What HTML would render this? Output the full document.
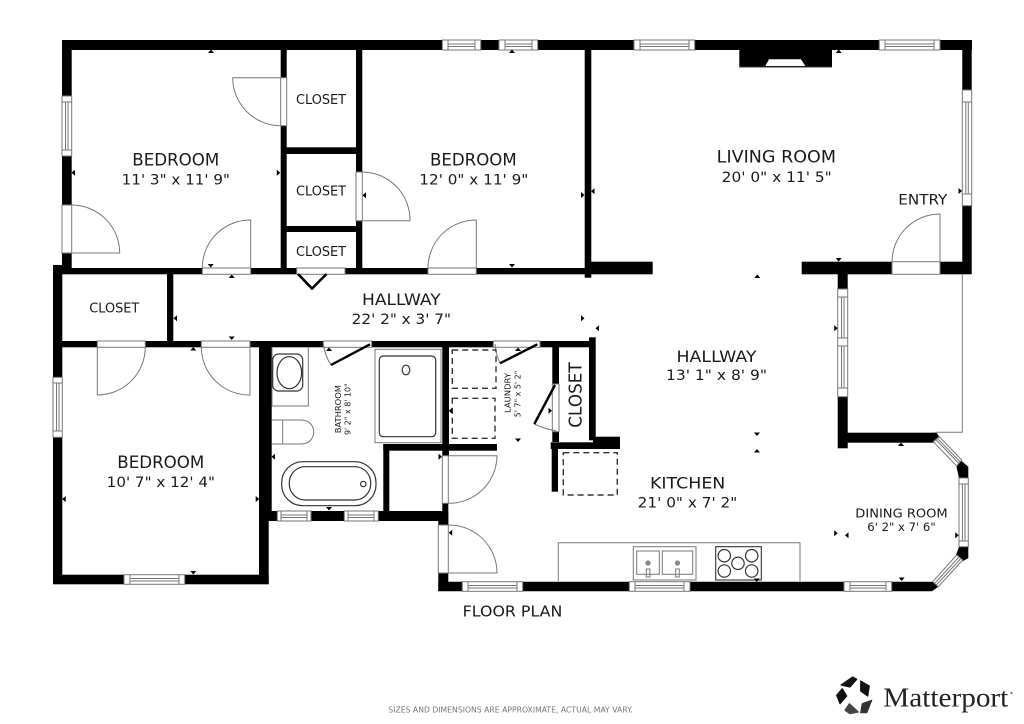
<!DOCTYPE html>
<html><head><meta charset="utf-8"><style>
html,body{margin:0;padding:0;background:#fff}
svg{display:block}
text{font-family:"DejaVu Sans","Liberation Sans",sans-serif;fill:#1a1a1a}
.g{fill:none;stroke:#777;stroke-width:1}
.w{fill:#fff;stroke:#777;stroke-width:1}
.d{fill:none;stroke:#333;stroke-width:1.4;stroke-dasharray:6 4}
.f{fill:none;stroke:#333;stroke-width:1.2}
.t{fill:none;stroke:#000;stroke-width:2.4}
</style></head><body>
<svg width="1024" height="724" viewBox="0 0 1024 724" xmlns="http://www.w3.org/2000/svg">
<rect width="1024" height="724" fill="#fff"/>
<!-- walls -->
<g fill="#000">
<rect x="62" y="40" width="910" height="10"/>
<rect x="62" y="40" width="9.7" height="228"/>
<rect x="53" y="268" width="538" height="6.3"/>
<rect x="53" y="265" width="9.3" height="319"/>
<rect x="53" y="574.7" width="215.7" height="9.6"/>
<rect x="259" y="341" width="12.7" height="170.7"/>
<rect x="259" y="511" width="9.7" height="73"/>
<rect x="62" y="341" width="533" height="6.3"/>
<rect x="167" y="274" width="6.3" height="67"/>
<rect x="280.7" y="50" width="6" height="218"/>
<rect x="356" y="50" width="6.3" height="218"/>
<rect x="286" y="147.3" width="70" height="6.7"/>
<rect x="286" y="226" width="70" height="6"/>
<rect x="584.7" y="50" width="6.6" height="227.7"/>
<rect x="591" y="261.7" width="61.7" height="12.6"/>
<rect x="801.7" y="261.7" width="170" height="12.6"/>
<rect x="962.3" y="40" width="9.4" height="222"/>
<rect x="739.3" y="50" width="92.7" height="17.3"/>
<rect x="837.7" y="274" width="10" height="174.3"/>
<rect x="847" y="432.7" width="89.7" height="10"/>
<polygon points="932,432.7 936.7,432.7 939.3,436.7 933.3,441.7 932,442.7"/>
<polygon points="961,460.5 968.3,466.7 968.3,478 959,478 956.5,467"/>
<rect x="959" y="478" width="9.3" height="69"/>
<polygon points="959,546.7 968.3,546.7 968.3,558.3 962,561.5 956,555"/>
<polygon points="438.3,581.7 932.7,581.7 938.3,586.7 932,591.3 438.3,591.3"/>
<rect x="438.3" y="521" width="10" height="70"/>
<rect x="442.3" y="456" width="6" height="69"/>
<rect x="259" y="511" width="189.3" height="10"/>
<rect x="442.3" y="347" width="6.7" height="109"/>
<rect x="383.3" y="444" width="113.7" height="6.7"/>
<rect x="383.3" y="444" width="6" height="76"/>
<rect x="552.3" y="347" width="6.7" height="95"/>
<rect x="551.7" y="449" width="6.3" height="42.7"/>
<rect x="550.7" y="442.3" width="69.3" height="6.7"/>
<rect x="593" y="436.7" width="27" height="12.3"/>
<rect x="589" y="337.3" width="6.7" height="103"/>
</g>
<!-- door openings -->
<g class="w">
<rect x="280.7" y="77.7" width="6" height="48"/>
<rect x="356" y="172" width="6.3" height="48.7"/>
<rect x="62" y="205" width="9.7" height="48"/>
<rect x="202.3" y="268" width="48.4" height="6.3"/>
<rect x="296.7" y="268" width="48.3" height="6.3"/>
<rect x="428" y="268" width="48.3" height="6.3"/>
<rect x="892" y="261.7" width="48" height="12.6"/>
<rect x="97.3" y="341" width="48" height="6.3"/>
<rect x="201.3" y="341" width="48.7" height="6.3"/>
<rect x="323.3" y="341" width="48.4" height="6.3"/>
<rect x="493.3" y="341" width="46.7" height="6.3"/>
<rect x="552.3" y="384" width="6.7" height="47.7"/>
<rect x="442.3" y="455.7" width="6" height="47.6"/>
<rect x="438.3" y="525" width="10" height="48"/>
</g>
<!-- door swings -->
<g class="g">
<path d="M280.7 77.7H232.7A48 48 0 0 0 280.7 125.7"/>
<path d="M362.3 220.7H410A48 48 0 0 0 362.3 172"/>
<path d="M71.7 253H119.7A48 48 0 0 0 71.7 205"/>
<path d="M250.7 268V220A48 48 0 0 0 202.3 268"/>
<path d="M476.3 268V220A48 48 0 0 0 428 268"/>
<path d="M940 262V214A48 48 0 0 0 892 262"/>
<path d="M97.3 347V395A48 48 0 0 0 145.3 347"/>
<path d="M250 347V395A48 48 0 0 1 201.3 347"/>
<path d="M448.3 455.7H497A48 48 0 0 1 448.3 503.3"/>
<path d="M448.3 573H497A48 48 0 0 0 448.3 525"/>
<path d="M323.3 344Q325 356 331 365"/>
<path d="M495 344Q496 355 500 363.3"/>
<path d="M534.3 424Q545 429 556.7 431"/>
</g>
<g class="t">
<path d="M331 365L370 344.3" stroke-width="2.4" fill="none" stroke="#000"/>
<path d="M500 363.3L537.3 344.3" fill="none" stroke="#000"/>
<path d="M555 385L534.3 424" fill="none" stroke="#000"/>
<path d="M298 274L312 288.5L326.5 274" fill="none" stroke="#000" stroke-width="2.6"/>
</g>
<!-- windows -->
<g class="g">
<g id="hw">
<rect class="w" x="442.3" y="40" width="38.4" height="10"/><path d="M448 40V50M475 40V50M448 44H475M448 46.5H475"/>
<rect class="w" x="499" y="40" width="38.7" height="10"/><path d="M505 40V50M532 40V50M505 44H532M505 46.5H532"/>
<rect class="w" x="634" y="40" width="60.7" height="10"/><path d="M640 40V50M689 40V50M640 44H689M640 46.5H689"/>
<rect class="w" x="879.3" y="40" width="60.7" height="10"/><path d="M885 40V50M934 40V50M885 44H934M885 46.5H934"/>
<rect class="w" x="124" y="574.7" width="60.7" height="9.6"/><path d="M130 574.7V584.3M179 574.7V584.3M130 578.5H179M130 581H179"/>
<rect class="w" x="277.3" y="511" width="33.7" height="10"/><path d="M281 511V521M307 511V521M281 515H307M281 517.5H307"/>
<rect class="w" x="344.3" y="511" width="34" height="10"/><path d="M348 511V521M374 511V521M348 515H374M348 517.5H374"/>
<rect class="w" x="462.3" y="581.7" width="60.4" height="9.6"/><path d="M468 581.7V591.3M517 581.7V591.3M468 585.5H517M468 588H517"/>
<rect class="w" x="629.3" y="581.7" width="60.7" height="9.6"/><path d="M635 581.7V591.3M684 581.7V591.3M635 585.5H684M635 588H684"/>
<rect class="w" x="844" y="581.7" width="47.7" height="9.6"/><path d="M850 581.7V591.3M886 581.7V591.3M850 585.5H886M850 588H886"/>
</g>
<rect class="w" x="62" y="96" width="9.7" height="60"/><path d="M62 102H71.7M62 150H71.7M65.5 102V150M68 102V150"/>
<rect class="w" x="962.3" y="90" width="9.4" height="115.7"/><path d="M962.3 102H971.7M962.3 194H971.7M965.8 102V194M968.3 102V194"/>
<rect class="w" x="53" y="377.3" width="9.3" height="60"/><path d="M53 383H62.3M53 431H62.3M56.5 383V431M59 383V431"/>
<rect class="w" x="837.7" y="289" width="10" height="107.7"/><path d="M837.7 297H847.7M837.7 388H847.7M837.7 338H847.7M837.7 346H847.7M841.5 297V338M844 297V338M841.5 346V388M844 346V388"/>
<rect class="w" x="959" y="478" width="9.3" height="68.7"/><path d="M959 484H968.3M959 541H968.3M962.4 484V541M965 484V541"/>
<polygon class="w" points="939.3,436.7 961.7,460 956.7,466 933.3,441.7"/><path d="M935.8 439.5L959 463.5M937.3 438.2L960.3 462"/>
<polygon class="w" points="956.7,555 962.7,560 938.3,586.7 932.7,581.7"/><path d="M958.5 557.5L934.5 583.5M960.5 559L936.3 585"/>
<!-- outer thin lines -->
<path d="M962.3 274V432.3H936.7"/>
</g>
<!-- fireplace -->
<polygon points="765.3,66 805.3,66 801,59.3 769,59.3" fill="#fff"/>
<path d="M739.3 67.3H832" stroke="#777" stroke-width="1"/>
<!-- fixtures -->
<path class="g" d="M272 347V406H308.3V347"/>
<rect class="f" x="272.7" y="354" width="30" height="37" rx="6"/>
<ellipse class="f" cx="289.3" cy="372.7" rx="12.3" ry="16"/>
<path class="g" d="M272 420H301C318 420 318 444 301 444H272M282.7 420V444"/>
<rect class="g" x="375" y="349.3" width="66" height="93.4"/>
<rect class="f" x="379.3" y="356" width="56.4" height="80.7" rx="4"/>
<ellipse class="f" cx="406" cy="370" rx="3.8" ry="4.8"/>
<rect class="f" x="281.7" y="461.7" width="94.3" height="44" rx="21"/>
<rect class="f" x="289.3" y="466.7" width="81.4" height="33.3" rx="16"/>
<circle class="f" cx="363.3" cy="484" r="2.7"/>
<rect class="d" x="452.3" y="350" width="43.7" height="38.3"/>
<rect class="d" x="452.3" y="398.3" width="42.7" height="40"/>
<rect class="d" x="563.3" y="452.7" width="54" height="42.3"/>
<path class="g" d="M558.3 581V542.7H800V581"/>
<rect class="g" x="633.3" y="546.7" width="62.7" height="33.3" fill="#fff"/>
<rect class="g" x="636.7" y="551" width="22.6" height="23.3"/>
<rect class="g" x="662.3" y="551" width="30.4" height="23.3"/>
<circle cx="648" cy="563" r="2.6" fill="#888"/><circle cx="677.5" cy="563" r="2.6" fill="#888"/>
<rect class="g" x="646.3" y="569" width="3.6" height="8" fill="#fff"/><rect class="g" x="675.7" y="569" width="3.6" height="8" fill="#fff"/>
<rect x="715.7" y="546.7" width="45.6" height="33.3" fill="#fff" stroke="#333" stroke-width="1.1"/>
<g class="f"><circle cx="724.3" cy="555.7" r="6.2"/><circle cx="751.7" cy="555.7" r="6.2"/><circle cx="738" cy="563.3" r="6.2"/><circle cx="724.3" cy="571" r="6.2"/><circle cx="751.7" cy="571" r="6.2"/></g>
<!-- arrowheads -->
<path fill="#000" d="
M208 53L211 49.5L214 53Z M509 53L512 49.5L515 53Z M835.7 53L838.7 49.5L841.7 53Z M228.7 278L231.7 274.5L234.7 278Z M754.3 278L757.3 274.5L760.3 278Z
M190.3 350.5L193.3 347L196.3 350.5Z M326 351L329 347.5L332 351Z M515 351L518 347.5L521 351Z M898 446L901 442.5L904 446Z M754 452.5L757 449L760 452.5Z
M207.7 264L210.7 267.5L213.7 264Z M509 264L512 267.5L515 264Z M835.7 258L838.7 261.5L841.7 258Z M228.7 336.5L231.7 340L234.7 336.5Z M190.3 571L193.3 574.5L196.3 571Z
M326 507L329 510.5L332 507Z M515 438.5L518 442L521 438.5Z M754 432.5L757 436L760 432.5Z M753.7 578.5L756.7 582L759.7 578.5Z M898.7 577.5L901.7 581L904.7 577.5Z
M75 169.7L71.5 172.7L75 175.7Z M366 192.3L362.5 195.3L366 198.3Z M594.5 188.3L591 191.3L594.5 194.3Z M177 315.3L173.5 318.3L177 321.3Z M65.7 496L62.2 499L65.7 502Z
M275 453.7L271.5 456.7L275 459.7Z M452.2 407.7L448.7 410.7L452.2 413.7Z M452.2 529.7L448.7 532.7L452.2 535.7Z M599 325.3L595.5 328.3L599 331.3Z M848.5 532.3L845 535.3L848.5 538.3Z
M276.8 169.7L280.3 172.7L276.8 175.7Z M581 192L584.5 195L581 198Z M958.5 188L962 191L958.5 194Z M255.7 496L259.2 499L255.7 502Z M438.5 453.7L442 456.7L438.5 459.7Z
M548.5 407.7L552 410.7L548.5 413.7Z M581 315.3L584.5 318.3L581 321.3Z M834.2 325.3L837.7 328.3L834.2 331.3Z M834.2 530.3L837.7 533.3L834.2 536.3Z M955.2 532.3L958.7 535.3L955.2 538.3Z"/>
<!-- labels -->
<g>
<text x="132.3" y="165.3" font-size="16.5" textLength="87" lengthAdjust="spacingAndGlyphs">BEDROOM</text>
<text x="121.7" y="184.7" font-size="14.5" textLength="108.3" lengthAdjust="spacingAndGlyphs">11' 3" x 11' 9"</text>
<text x="430" y="165.3" font-size="16.5" textLength="86.7" lengthAdjust="spacingAndGlyphs">BEDROOM</text>
<text x="419.3" y="184.7" font-size="14.5" textLength="109" lengthAdjust="spacingAndGlyphs">12' 0" x 11' 9"</text>
<text x="716.7" y="162.7" font-size="16.5" textLength="119.3" lengthAdjust="spacingAndGlyphs">LIVING ROOM</text>
<text x="721.7" y="182" font-size="14.5" textLength="110" lengthAdjust="spacingAndGlyphs">20' 0" x 11' 5"</text>
<text x="898.3" y="204.3" font-size="14" textLength="49" lengthAdjust="spacingAndGlyphs">ENTRY</text>
<text x="296" y="104" font-size="13" textLength="50" lengthAdjust="spacingAndGlyphs">CLOSET</text>
<text x="296" y="195.7" font-size="13" textLength="50" lengthAdjust="spacingAndGlyphs">CLOSET</text>
<text x="296" y="256" font-size="13" textLength="50" lengthAdjust="spacingAndGlyphs">CLOSET</text>
<text x="89.3" y="312.3" font-size="13" textLength="50" lengthAdjust="spacingAndGlyphs">CLOSET</text>
<text x="362" y="305" font-size="16" textLength="78.7" lengthAdjust="spacingAndGlyphs">HALLWAY</text>
<text x="351.7" y="324" font-size="14.5" textLength="99.3" lengthAdjust="spacingAndGlyphs">22' 2" x 3' 7"</text>
<text x="676.5" y="362" font-size="16" textLength="80" lengthAdjust="spacingAndGlyphs">HALLWAY</text>
<text x="666" y="380" font-size="14.5" textLength="101" lengthAdjust="spacingAndGlyphs">13' 1" x 8' 9"</text>
<text x="650" y="488.7" font-size="16" textLength="75.3" lengthAdjust="spacingAndGlyphs">KITCHEN</text>
<text x="637.7" y="507.7" font-size="14.5" textLength="99.6" lengthAdjust="spacingAndGlyphs">21' 0" x 7' 2"</text>
<text x="855.3" y="517.3" font-size="12" textLength="92.4" lengthAdjust="spacingAndGlyphs">DINING ROOM</text>
<text x="867.3" y="531" font-size="11.5" textLength="68.4" lengthAdjust="spacingAndGlyphs">6' 2" x 7' 6"</text>
<text x="117.3" y="468" font-size="16.5" textLength="87" lengthAdjust="spacingAndGlyphs">BEDROOM</text>
<text x="106.7" y="487" font-size="14.5" textLength="108.3" lengthAdjust="spacingAndGlyphs">10' 7" x 12' 4"</text>
<text x="462.7" y="616.7" font-size="15" textLength="99.6" lengthAdjust="spacingAndGlyphs">FLOOR PLAN</text>
<text x="388.3" y="712.7" font-size="7.5" style="fill:#777" textLength="244.4" lengthAdjust="spacingAndGlyphs">SIZES AND DIMENSIONS ARE APPROXIMATE, ACTUAL MAY VARY.</text>
<text transform="translate(581.7 427.7) rotate(-90)" font-size="18" textLength="65.4" lengthAdjust="spacingAndGlyphs">CLOSET</text>
<text transform="translate(341 433.3) rotate(-90)" font-size="8" textLength="48.3" lengthAdjust="spacingAndGlyphs">BATHROOM</text>
<text transform="translate(350.7 435) rotate(-90)" font-size="8" textLength="51.7" lengthAdjust="spacingAndGlyphs">9' 2" x 8' 10"</text>
<text transform="translate(510.3 413) rotate(-90)" font-size="8" textLength="40" lengthAdjust="spacingAndGlyphs">LAUNDRY</text>
<text transform="translate(520.7 417.3) rotate(-90)" font-size="8" textLength="46.6" lengthAdjust="spacingAndGlyphs">5' 7" x 5' 2"</text>
</g>
<!-- logo -->
<g fill="#111" stroke="#111" stroke-width="1.2" stroke-linejoin="round">
<polygon points="841,685 852.7,677 856.7,679.3 850,687"/>
<polygon points="860.7,681 869.3,686 867.7,696 860.7,691"/>
<polygon points="836.7,695.3 842.3,688.7 846.7,696 840,703.7"/>
<polygon points="845,710.3 849.3,703.7 858.3,712 850,713.7" fill="#444" stroke="#444"/>
<polygon points="860.7,712.7 862.3,703.7 871.7,700.3 866.7,712.7" fill="#333" stroke="#333"/>
</g>
<text x="883.3" y="706.7" font-size="27" textLength="125" lengthAdjust="spacingAndGlyphs" style="font-family:'Liberation Serif',serif;fill:#222">Matterport</text>
<circle cx="1011.5" cy="693" r="1" fill="#555"/>
</svg>
</body></html>
